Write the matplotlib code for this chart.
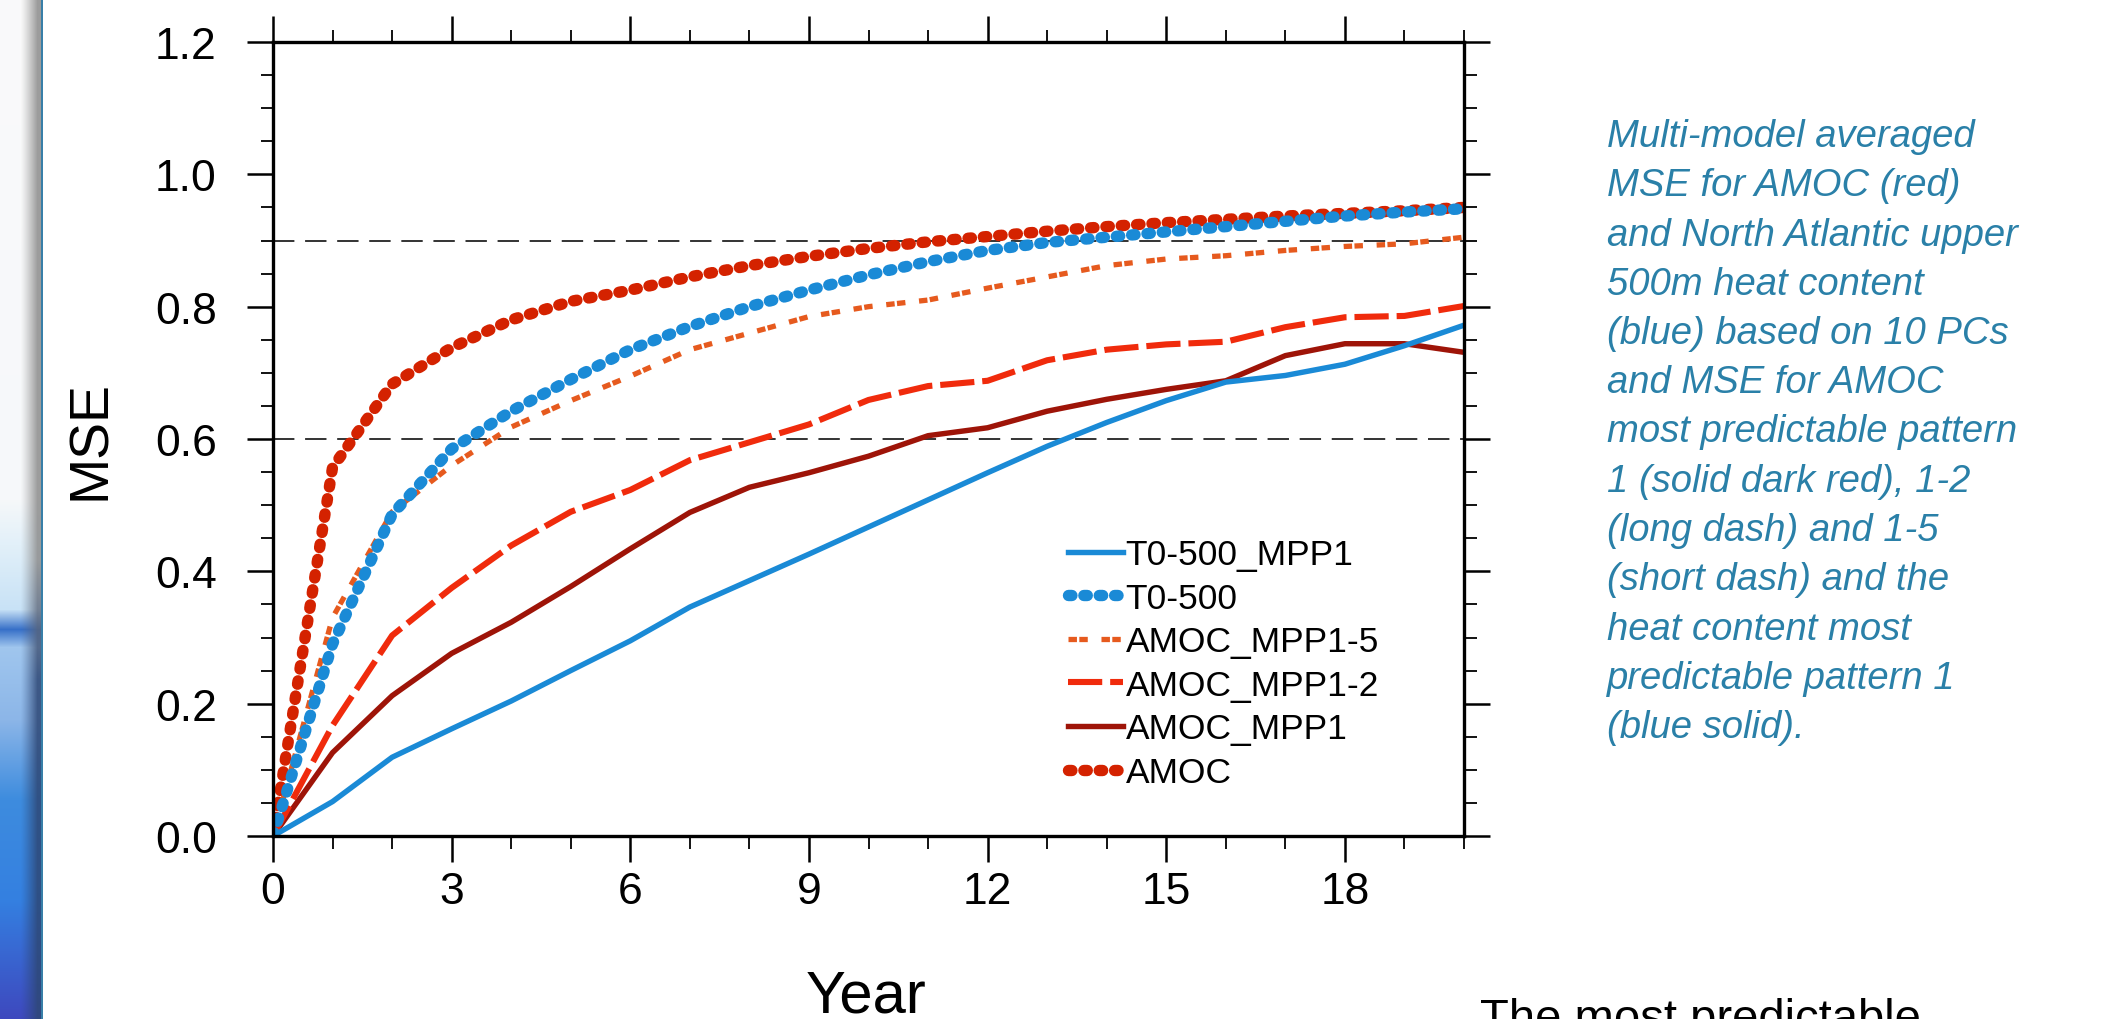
import numpy as np
import matplotlib
matplotlib.use('Agg')
import matplotlib.pyplot as plt
from matplotlib.ticker import MultipleLocator

plt.rcParams['font.family'] = ['Liberation Sans', 'DejaVu Sans']

# # Data
years = list(range(0, 21))

t0500_mpp1 = [0.0, 0.052, 0.119, 0.162, 0.204, 0.25, 0.295, 0.346, 0.386, 0.426, 0.467,
              0.508, 0.549, 0.589, 0.625, 0.658, 0.686, 0.696, 0.713, 0.741, 0.772]
t0500 = [0.0, 0.29, 0.486, 0.585, 0.642, 0.69, 0.735, 0.77, 0.80, 0.825, 0.848,
         0.868, 0.885, 0.897, 0.905, 0.913, 0.921, 0.929, 0.937, 0.943, 0.948]
amoc_mpp1_5 = [0.0, 0.33, 0.49, 0.56, 0.618, 0.658, 0.695, 0.735, 0.76, 0.785, 0.80,
               0.81, 0.828, 0.845, 0.862, 0.872, 0.877, 0.885, 0.891, 0.895, 0.905]
amoc_mpp1_2 = [0.0, 0.167, 0.303, 0.375, 0.439, 0.49, 0.523, 0.568, 0.595, 0.622, 0.659,
               0.68, 0.688, 0.719, 0.735, 0.743, 0.747, 0.769, 0.784, 0.786, 0.801]
amoc_mpp1 = [0.0, 0.126, 0.212, 0.276, 0.323, 0.377, 0.434, 0.489, 0.527, 0.549, 0.574,
             0.605, 0.617, 0.642, 0.66, 0.675, 0.688, 0.726, 0.744, 0.744, 0.731]
amoc = [0.0, 0.557, 0.683, 0.738, 0.78, 0.808, 0.825, 0.845, 0.862, 0.876, 0.888,
        0.898, 0.906, 0.914, 0.921, 0.927, 0.932, 0.937, 0.941, 0.945, 0.95]

ref_levels = [0.6, 0.9]

caption_lines = [
    'Multi-model averaged',
    'MSE for AMOC (red)',
    'and North Atlantic upper',
    '500m heat content',
    '(blue) based on 10 PCs',
    'and MSE for AMOC',
    'most predictable pattern',
    '1 (solid dark red), 1-2',
    '(long dash) and 1-5',
    '(short dash) and the',
    'heat content most',
    'predictable pattern 1',
    '(blue solid).',
]

W, H = 2109, 1020
fig = plt.figure(figsize=(W / 100, H / 100), dpi=100)

# blurred slide background strip on the far left
strip_w = 43
rows = np.arange(H)
stops_y = [0, 500, 545, 610, 630, 648, 720, 800, 900, 1020]
stops_c = np.array([
    [250, 250, 250], [246, 248, 250], [226, 240, 249], [200, 226, 246], [55, 112, 200],
    [160, 198, 238], [140, 182, 232], [62, 140, 222], [52, 128, 225], [62, 72, 190]]) / 255.0
base = np.stack([np.interp(rows, stops_y, stops_c[:, k]) for k in range(3)], axis=1)
band_top = np.array([0.55, 0.55, 0.55])
band_bot = np.array([0.18, 0.28, 0.46])
mix = np.clip((rows - 560) / 120.0, 0, 1)[:, None]
band = band_top * (1 - mix) + band_bot * mix
cols = np.arange(strip_w)
wgt = np.clip((cols - 20) / 17.0, 0, 1) ** 1.2 * 0.85
img = base[:, None, :] * (1 - wgt[None, :, None]) + band[:, None, :] * wgt[None, :, None]
img[:, -2:, :] = np.array([0.22, 0.50, 0.66])
bg = fig.add_axes([0, 0, strip_w / W, 1])
bg.imshow(img, aspect='auto', interpolation='bilinear')
bg.axis('off')

# # Main plot
ax = fig.add_axes([273 / W, 183 / H, 1191 / W, 794 / H])

for lvl in ref_levels:
    ax.axhline(lvl, color='#333333', lw=1.4, dashes=(11, 5.5), zorder=1)

dot = dict(lw=8.2, dashes=(0.3, 1.05), dash_capstyle='round')
ax.plot(years, amoc, color='#d42200', label='AMOC', **dot)
ax.plot(years, amoc_mpp1, color='#9e1408', lw=3.9, label='AMOC_MPP1')
ax.plot(years, amoc_mpp1_2, color='#f02b0c', lw=4.4, dashes=(5.6, 1.3),
        label='AMOC_MPP1-2')
ax.plot(years, amoc_mpp1_5, color='#e65a1e', lw=3.8, dashes=(1.6, 0.45, 1.6, 2.6),
        label='AMOC_MPP1-5')
ax.plot(years, t0500, color='#1a8ad6', label='T0-500', **dot)
ax.plot(years, t0500_mpp1, color='#1a8ad6', lw=3.9, label='T0-500_MPP1')

ax.set_xlim(0, 20)
ax.set_ylim(0, 1.2)
ax.xaxis.set_major_locator(MultipleLocator(3))
ax.xaxis.set_minor_locator(MultipleLocator(1))
ax.yaxis.set_major_locator(MultipleLocator(0.2))
ax.yaxis.set_minor_locator(MultipleLocator(0.05))
ax.yaxis.set_major_formatter(plt.FormatStrFormatter('%.1f'))
ax.tick_params(which='both', direction='out', top=True, right=True)
ax.tick_params(which='major', length=18.5, width=1.8, labelsize=32)
ax.tick_params(which='minor', length=9, width=1.3)
ax.tick_params(axis='y', which='major', pad=22)
ax.tick_params(axis='x', which='major', pad=7)
for sp in ax.spines.values():
    sp.set_linewidth(2.4)

handles, labels = ax.get_legend_handles_labels()
leg = ax.legend(handles[::-1], labels[::-1], loc='upper left',
                bbox_to_anchor=(1068 / W, 1 - 539 / H), bbox_transform=fig.transFigure,
                frameon=False, fontsize=25.5, handlelength=1.55, handletextpad=0.08,
                labelspacing=0.30, borderpad=0, borderaxespad=0)

fig.text(91 / W, 1 - 440 / H, 'MSE', rotation=90, ha='center', va='center', fontsize=40)
fig.text(866 / W, 7 / H, 'Year', ha='center', va='baseline', fontsize=43)

for i, line in enumerate(caption_lines):
    fig.text(1607 / W, 1 - (147 + 49.25 * i) / H, line, fontsize=27.5, style='italic',
             color='#2a80a8', ha='left', va='baseline')

fig.text(1480 / W, -12 / H, 'The most predictable', fontsize=34, color='black',
         ha='left', va='baseline')

fig.savefig('out.png', dpi=100)
